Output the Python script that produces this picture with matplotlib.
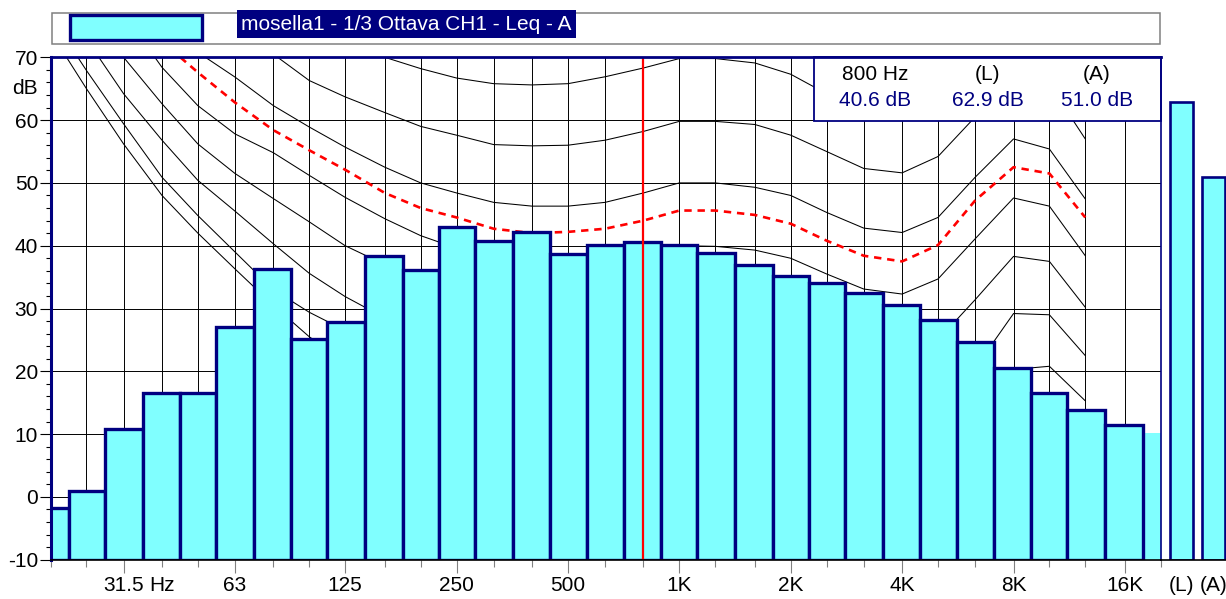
import numpy as np
import matplotlib
matplotlib.use('Agg')
import matplotlib.pyplot as plt
from matplotlib.patches import Rectangle

plt.rcParams['font.family'] = ['Liberation Sans', 'DejaVu Sans']
plt.rcParams['axes.unicode_minus'] = False

# ---------------- data ----------------
freqs = [20, 25, 31.5, 40, 50, 63, 80, 100, 125, 160, 200, 250, 315, 400, 500,
         630, 800, 1000, 1250, 1600, 2000, 2500, 3150, 4000, 5000, 6300, 8000,
         10000, 12500, 16000, 20000]
levels = [-1.8, 0.9, 10.8, 16.5, 16.6, 27.0, 36.3, 25.2, 27.9, 38.3, 36.1, 43.0,
          40.7, 42.2, 38.6, 40.1, 40.6, 40.1, 38.8, 37.0, 35.1, 34.1, 32.4, 30.5,
          28.1, 24.7, 20.5, 16.6, 13.8, 11.5, 10.1]

major_ticks = [31.5, 63, 125, 250, 500, 1000, 2000, 4000, 8000, 16000]
major_labels = ['31.5', '63', '125', '250', '500', '1K', '2K', '4K', '8K', '16K']
unit_tick = 40
unit_label = 'Hz'

total_labels = ['(L)', '(A)']
total_values = [62.9, 51.0]

selected_freq = 800
legend_text = 'mosella1 - 1/3 Ottava CH1 - Leq - A'

# equal-loudness contours (dB) at the first 29 band frequencies
contour_freqs = freqs[:29]
c_maf = [74.0, 65.0, 56.2, 48.0, 42.0, 36.3, 30.5, 25.5, 21.5, 17.5, 14.5, 12.0, 9.5, 7.5,
         6.0, 5.0, 4.5, 4.2, 3.5, 2.0, 0.5, -1.5, -3.5, -4.0, -1.5, 4.0, 11.0, 12.0, 8.0]
c_10 = [76.6, 67.9, 59.4, 50.9, 44.8, 39.0, 33.0, 29.4, 26.5, 23.5, 21.0, 18.0, 15.5, 13.5,
        12.0, 11.0, 10.5, 10.0, 9.5, 8.5, 7.0, 5.0, 3.0, 2.5, 5.5, 12.0, 20.3, 20.8, 15.3]
c_20 = [82.0, 72.9, 64.2, 56.8, 50.4, 45.5, 40.3, 35.6, 31.9, 28.5, 26.0, 24.0, 22.5, 21.3,
        20.5, 20.0, 19.8, 20.0, 19.5, 18.5, 17.0, 14.5, 12.5, 12.0, 14.5, 20.5, 29.2, 29.0, 22.5]
c_30 = [86.0, 78.0, 70.0, 62.6, 56.2, 51.5, 47.5, 43.8, 40.0, 37.0, 34.5, 32.8, 31.3, 30.3,
        29.7, 29.5, 29.6, 30.0, 29.5, 28.5, 27.0, 24.5, 22.5, 22.0, 25.0, 31.4, 38.3, 37.5, 30.2]
c_40 = [91.0, 84.0, 77.0, 68.4, 62.3, 57.8, 54.8, 51.2, 47.7, 44.3, 41.6, 39.6, 38.0, 37.2,
        37.0, 37.4, 38.6, 40.0, 39.9, 39.3, 38.0, 35.5, 33.1, 32.3, 34.7, 41.1, 47.6, 46.3, 38.4]
c_50 = [95.0, 88.5, 82.5, 76.0, 70.8, 66.85, 62.3, 58.9, 55.7, 52.5, 50.0, 48.4, 46.9, 46.3,
        46.3, 46.9, 48.4, 50.0, 50.0, 49.3, 48.0, 45.3, 42.8, 42.1, 44.5, 50.9, 57.0, 55.4, 47.45]
c_60 = [99.0, 93.0, 87.5, 82.0, 77.5, 73.5, 70.5, 66.3, 63.7, 61.2, 59.0, 57.6, 56.1, 55.9,
        56.0, 56.8, 58.2, 59.8, 59.8, 59.3, 57.6, 55.0, 52.3, 51.6, 54.2, 60.5, 66.5, 65.7, 57.0]
c_70 = [104.0, 98.0, 93.0, 88.0, 84.0, 80.0, 77.0, 74.5, 72.2, 70.0, 68.2, 66.7, 65.8, 65.6,
        65.8, 66.9, 68.3, 69.8, 69.8, 69.1, 67.3, 64.2, 61.5, 61.0, 64.0, 70.0, 76.0, 75.0, 66.5]
c_measured = [93.0, 86.0, 80.0, 72.5, 67.6, 62.8, 58.4, 55.2, 52.1, 48.4, 46.0, 44.5, 42.7, 42.0,
              42.2, 42.7, 44.0, 45.6, 45.6, 44.9, 43.5, 40.8, 38.4, 37.5, 40.1, 47.2, 52.5, 51.5, 44.5]
black_contours = [c_maf, c_10, c_20, c_30, c_40, c_50, c_60, c_70]

# ---------------- style ----------------
NAVY = '#000080'
CYAN = '#80FFFF'
FS = 15
W, H = 1226, 599

fig = plt.figure(figsize=(W / 100, H / 100), dpi=100)
ax_l, ax_r, ax_t, ax_b = 50.6, 1160.8, 57.3, 559.7
ax = fig.add_axes([ax_l / W, 1 - ax_b / H, (ax_r - ax_l) / W, (ax_b - ax_t) / H])

f = np.array(freqs, dtype=float)
mid = np.sqrt(f[:-1] * f[1:])
left = np.concatenate([[f[0] ** 2 / mid[0]], mid])
right = np.concatenate([mid, [f[-1] ** 2 / mid[-1]]])
lv = np.array(levels)
ymin, ymax = -10, 70

ax.set_xscale('log')
ax.set_xlim(freqs[0], freqs[-1])
ax.set_ylim(ymin, ymax)

# grid
for fr in freqs:
    ax.axvline(fr, color='black', lw=0.7, zorder=1)
for yv in range(ymin, ymax + 1, 10):
    ax.axhline(yv, color='black', lw=0.7, zorder=1)

# contours
for c in black_contours:
    ax.plot(contour_freqs, c, color='black', lw=0.75, zorder=2)
ax.plot(contour_freqs, c_measured, color='#FF0000', lw=1.9, ls=(0, (2.8, 2.2)), zorder=2.5)

# bars
ax.bar(left[:-1], lv[:-1] - ymin, width=right[:-1] - left[:-1], bottom=ymin, align='edge',
       color=CYAN, edgecolor=NAVY, linewidth=2.4, zorder=3)
ax.bar(left[-1:], lv[-1:] - ymin, width=right[-1:] - left[-1:], bottom=ymin, align='edge',
       color=CYAN, edgecolor='none', linewidth=0, zorder=2.9)

# selected frequency marker
ax.axvline(selected_freq, color='#FF0000', lw=1.6, zorder=4)

# ticks
minor_ticks = [fr for fr in freqs if fr not in major_ticks]
minor_labels = [unit_label if fr == unit_tick else '' for fr in minor_ticks]
ax.set_xticks(major_ticks, major_labels)
ax.set_xticks(minor_ticks, minor_labels, minor=True)
ax.tick_params(axis='x', which='major', length=9.4, width=0.8, color='#808080',
               pad=2.2, labelsize=FS)
ax.tick_params(axis='x', which='minor', length=5, width=0.8, color='#808080',
               pad=6.6, labelsize=FS)
ax.set_yticks(range(ymin, ymax + 1, 10))
ax.set_yticks(range(ymin, ymax + 1, 2), minor=True)
ax.tick_params(axis='y', which='major', length=8, width=0.8, color='black', pad=1,
               labelsize=FS)
ax.tick_params(axis='y', which='minor', length=3.6, width=0.8, color='black')
ax.annotate('dB', xy=(0, 65), xycoords=('axes fraction', 'data'), xytext=(-9.1, 0),
            textcoords='offset points', ha='right', va='center', fontsize=FS)

ax.spines['left'].set_color(NAVY)
ax.spines['left'].set_linewidth(2.2)
ax.spines['top'].set_color(NAVY)
ax.spines['top'].set_linewidth(2.0)
ax.spines['right'].set_color(NAVY)
ax.spines['right'].set_linewidth(1.2)
ax.spines['bottom'].set_color('black')
ax.spines['bottom'].set_linewidth(1.2)
for s in ax.spines.values():
    s.set_zorder(6)

# info box
bx0 = (814 - ax_l) / (ax_r - ax_l)
by0 = (ax_b - 121) / (ax_b - ax_t)
ax.add_patch(Rectangle((bx0, by0), 1 - bx0, 1 - by0, transform=ax.transAxes,
                       facecolor='white', edgecolor=NAVY, lw=1.3, zorder=5, clip_on=False))
sel_idx = freqs.index(selected_freq)
col_x = [(x - ax_l) / (ax_r - ax_l) for x in (875, 988, 1097)]
row_y = [(ax_b - y) / (ax_b - ax_t) for y in (74.5, 100)]
heads = [f'{selected_freq} Hz', total_labels[0], total_labels[1]]
vals = [f'{levels[sel_idx]:.1f} dB', f'{total_values[0]:.1f} dB', f'{total_values[1]:.1f} dB']
for cx, h, v in zip(col_x, heads, vals):
    ax.text(cx, row_y[0], h, transform=ax.transAxes, ha='center', va='center',
            fontsize=FS, color='black', zorder=6)
    ax.text(cx, row_y[1], v, transform=ax.transAxes, ha='center', va='center',
            fontsize=FS, color=NAVY, zorder=6)

# totals axes (L) (A)
ax2 = fig.add_axes([1161 / W, 1 - ax_b / H, 65 / W, (ax_b - ax_t) / H])
ax2.bar(range(len(total_values)), np.array(total_values) - ymin, bottom=ymin, width=0.7,
        color=CYAN, edgecolor=NAVY, linewidth=1.9)
ax2.set_xlim(-0.63, 1.38)
ax2.set_ylim(ymin, ymax)
ax2.set_xticks(range(len(total_labels)), total_labels)
ax2.set_yticks([])
ax2.tick_params(axis='x', length=0, pad=11.6, labelsize=FS)
for k in ('left', 'right', 'top'):
    ax2.spines[k].set_visible(False)
ax2.spines['bottom'].set_color('black')
ax2.spines['bottom'].set_linewidth(1.2)
ax2.patch.set_alpha(0)

# legend strip
fig.add_artist(Rectangle((52 / W, 1 - 44.3 / H), (1160 - 52) / W, 31.6 / H,
                         transform=fig.transFigure, facecolor='white',
                         edgecolor='#808080', lw=1.1))
fig.add_artist(Rectangle((70 / W, 1 - 40 / H), 132 / W, 25 / H,
                         transform=fig.transFigure, facecolor=CYAN,
                         edgecolor=NAVY, lw=2.4))
fig.text(241 / W, 1 - 24 / H, legend_text, color='white', fontsize=FS, va='center',
         ha='left', bbox=dict(boxstyle='square,pad=0.2', facecolor=NAVY, edgecolor='none'))

fig.savefig('out.png', dpi=100)
